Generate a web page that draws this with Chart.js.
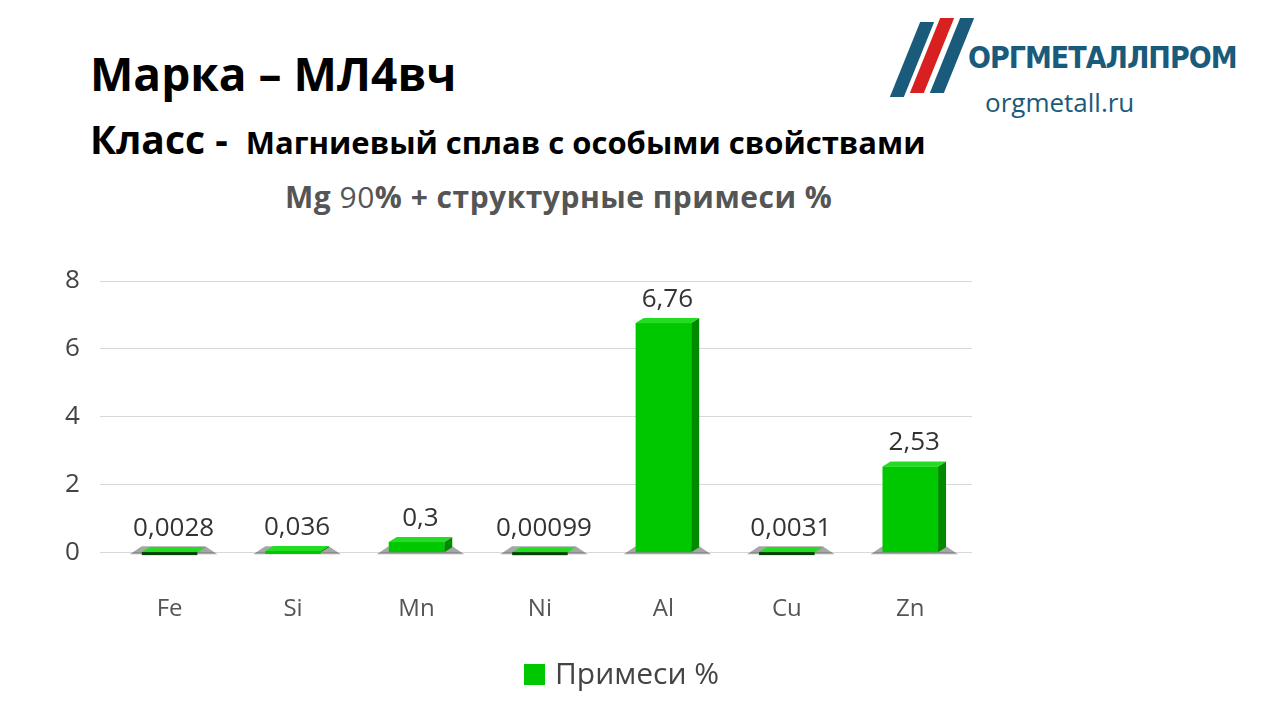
<!DOCTYPE html>
<html><head><meta charset="utf-8">
<script src="https://cdn.jsdelivr.net/npm/chart.js@4/dist/chart.umd.min.js"></script>
<style>
body{margin:0;width:1280px;height:720px;background:#fff;font-family:"Open Sans",sans-serif;position:relative;overflow:hidden}
.t1{position:absolute;left:90px;top:42px;font-size:46px;font-weight:bold;color:#000}
.t2{position:absolute;left:90px;top:112px;font-size:39px;font-weight:bold;color:#000}
.t2 span{font-size:31px;margin-left:18px}
.t3{position:absolute;left:285px;top:176px;font-size:30px;font-weight:bold;color:#555;letter-spacing:0.5px}
.t3 i{font-style:normal;font-weight:normal}
.logo{position:absolute;left:968px;top:40px;font-size:30px;font-weight:bold;color:#1a5a7a;letter-spacing:-1px;font-family:"DejaVu Sans Condensed","DejaVu Sans",sans-serif}
.url{position:absolute;left:985px;top:84px;font-size:26px;color:#1a5a7a}
.s{position:absolute;width:14px;height:70px;transform:skewX(-22deg)}
.lg{position:absolute;left:524px;top:652px;font-size:30px;color:#444}
.lg b{display:inline-block;width:21px;height:21px;background:#00c800;margin-right:10px;vertical-align:-1px}
#c{position:absolute;left:0;top:0}
</style></head><body>
<div class="s" style="left:905px;top:22px;background:#1a5a7a;height:75px"></div>
<div class="s" style="left:925px;top:18px;background:#d92020;height:75px"></div>
<div class="s" style="left:945px;top:18px;background:#1a5a7a;height:75px"></div>
<div class="logo">ОРГМЕТАЛЛПРОМ</div>
<div class="url">orgmetall.ru</div>
<div class="t1">Марка – МЛ4вч</div>
<div class="t2">Класс -<span>Магниевый сплав с особыми свойствами</span></div>
<div class="t3">Mg <i>90</i>% + структурные примеси %</div>
<canvas id="c" width="1280" height="720"></canvas>
<div class="lg"><b></b>Примеси %</div>
<script>
const categories=["Fe","Si","Mn","Ni","Al","Cu","Zn"];
const values=[0.0028,0.036,0.3,0.00099,6.76,0.0031,2.53];
const labels=["0,0028","0,036","0,3","0,00099","6,76","0,0031","2,53"];
const yTicks=[0,2,4,6,8];
const bar3d={id:"bar3d",afterDatasetsDraw(ch){const c=ch.ctx,m=ch.getDatasetMeta(0),y0=ch.scales.y.getPixelForValue(0);
m.data.forEach((b,i)=>{const w=b.width,l=b.x-w/2,r=b.x+w/2,t=b.y,d=8;
c.fillStyle="rgba(0,0,0,0.35)";c.beginPath();c.moveTo(l-12,y0+2);c.lineTo(r+20,y0+2);c.lineTo(r+8,y0-6);c.lineTo(l,y0-6);c.fill();
c.fillStyle="#008a00";c.beginPath();c.moveTo(r,t);c.lineTo(r+d,t-5);c.lineTo(r+d,y0-5);c.lineTo(r,y0);c.fill();
c.fillStyle="#22dd22";c.beginPath();c.moveTo(l,t);c.lineTo(l+d,t-5);c.lineTo(r+d,t-5);c.lineTo(r,t);c.fill();
c.fillStyle=values[i]<0.01?"#004400":"#00c800";c.fillRect(l,t,w,Math.max(y0-t,3));
c.fillStyle="#333";c.font="26px 'Open Sans'";c.textAlign="center";c.fillText(labels[i],b.x+4,t-16);});}};
new Chart(document.getElementById("c"),{type:"bar",
data:{labels:categories,datasets:[{label:"Примеси %",data:values,backgroundColor:"rgba(0,0,0,0)",borderWidth:0,barPercentage:0.45,categoryPercentage:1}]},
options:{responsive:false,animation:false,
layout:{padding:{left:45,right:308,top:281,bottom:61}},
plugins:{legend:{display:false},tooltip:{enabled:false}},
scales:{x:{grid:{display:false},border:{display:false},ticks:{font:{size:24,family:"Open Sans"},color:"#555",padding:35}},
y:{min:0,max:8,afterBuildTicks:a=>{a.ticks=yTicks.map(v=>({value:v}))},grid:{color:"#d8d8d8"},border:{display:false},ticks:{font:{size:26,family:"Open Sans"},color:"#444",padding:20}}}},
plugins:[bar3d]});
</script></body></html>
